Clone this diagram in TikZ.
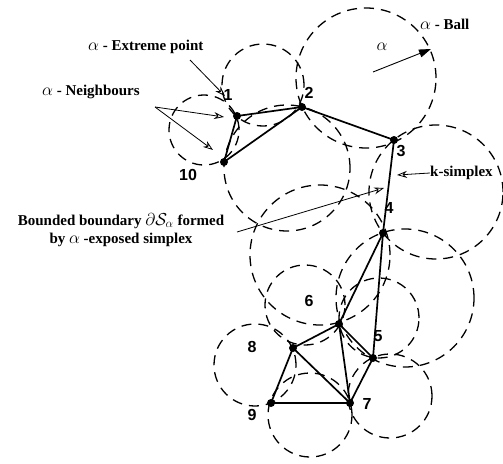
\documentclass[tikz,border=0pt]{standalone}
\usepackage{fontspec}
\setmainfont{Liberation Serif}
\newfontfamily\numfont{Liberation Sans}
\usetikzlibrary{arrows.meta}
\newcommand{\galpha}{{\fontsize{18}{18}\selectfont$\alpha$}}
\begin{document}
\begin{tikzpicture}[x=1pt,y=-1pt,
  pt/.style={circle,fill=black,inner sep=0pt,minimum size=8pt},
  edge/.style={line width=1.7pt},
  ball/.style={line width=1.3pt,dash pattern=on 10pt off 7pt},
  num/.style={font=\numfont\bfseries\fontsize{16}{16}\selectfont,inner sep=0pt},
  lab/.style={font=\bfseries\fontsize{15}{17}\selectfont,inner sep=0pt},
  ptr/.style={line width=0.8pt,-{Stealth[open,length=10pt,width=7pt]}},
  bigptr/.style={line width=0.9pt,-{Triangle[length=12pt,width=8pt]}}
]
\useasboundingbox (0,0) rectangle (503,463);

% alpha balls
\draw[ball] (366,78) circle[radius=70pt];
\draw[ball] (263,85) circle[radius=41pt];
\draw[ball] (204,130) circle[radius=35pt];
\draw[ball] (287,168) circle[radius=63pt];
\draw[ball] (436,192) circle[radius=67pt];
\draw[ball] (405,298) circle[radius=69pt];
\draw[ball] (320,255) circle[radius=70pt];
\draw[ball] (390,396) circle[radius=42pt];
\draw[ball] (310,415) circle[radius=42pt];
\draw[ball] (255,365) circle[radius=41pt];
\draw[ball] (305,305) circle[radius=40pt];
\draw[ball] (379,318) circle[radius=40pt];

% points
\node[pt] (p1) at (237,116) {};
\node[pt] (p2) at (302,107) {};
\node[pt] (p3) at (394,140) {};
\node[pt] (p4) at (383,233) {};
\node[pt] (p5) at (373,358) {};
\node[pt] (p6) at (339,324) {};
\node[pt] (p7) at (350,403) {};
\node[pt] (p8) at (293,348) {};
\node[pt] (p9) at (271,403) {};
\node[pt] (p10) at (224,162) {};

% simplex edges
\draw[edge] (p1.center) -- (p2.center);
\draw[edge] (p2.center) -- (p10.center);
\draw[edge] (p1.center) -- (p10.center);
\draw[edge] (p2.center) -- (p3.center);
\draw[edge] (p3.center) -- (p4.center);
\draw[edge] (p4.center) -- (p6.center);
\draw[edge] (p4.center) -- (p5.center);
\draw[edge] (p6.center) -- (p8.center);
\draw[edge] (p6.center) -- (p7.center);
\draw[edge] (p6.center) -- (p5.center);
\draw[edge] (p8.center) -- (p9.center);
\draw[edge] (p8.center) -- (p7.center);
\draw[edge,line width=2.1pt] (p9.center) -- (p7.center);
\draw[edge] (p5.center) -- (p7.center);

% point numbers
\node[num] (n1) at (228,95) {1};
\node[num] (n2) at (309,93) {2};
\node[num] (n3) at (401,151) {3};
\node[num] (n4) at (389,208) {4};
\node[num] (n5) at (378,336) {5};
\node[num] (n6) at (309,301) {6};
\node[num] (n7) at (367,404) {7};
\node[num] (n8) at (252,347) {8};
\node[num] (n9) at (252,415) {9};
\node[num] (n10) at (188,175) {10};

% annotations
\node[lab,anchor=west] (lext) at (88,47) {\galpha{} - Extreme point};
\node[lab,anchor=west] (lnb) at (42,92) {\galpha{} - Neighbours};
\node[lab,anchor=west] (lball) at (420,24) {\galpha{} - Ball};
\node[lab] (lalpha) at (382,47) {\galpha};
\node[lab,anchor=west] (lk) at (430,173) {k-simplex};
\node[lab,align=center] (lbd) at (121,230) {Bounded boundary {\fontsize{17}{17}\selectfont$\partial\mathcal{S}_{\alpha}$} formed\\[1pt] by \galpha{} -exposed simplex};

\coordinate (e1) at (190,60);
\coordinate (e2) at (225,96);
\coordinate (nb0) at (155,107);
\coordinate (nb1) at (224,117);
\coordinate (nb2) at (213,150);
\coordinate (ks) at (397,175);
\coordinate (bd0) at (237,232);
\coordinate (bd1) at (384,188);
\coordinate (ab0) at (373,72);
\coordinate (ab1) at (431,49);

\draw[ptr] (e1) -- (e2);
\draw[ptr] (nb0) -- (nb1);
\draw[ptr] (nb0) -- (nb2);
\draw[ptr] (lk.west) -- (ks);
\draw[ptr] (bd0) -- (bd1);
\draw[bigptr] (ab0) -- (ab1);
\end{tikzpicture}
\end{document}
